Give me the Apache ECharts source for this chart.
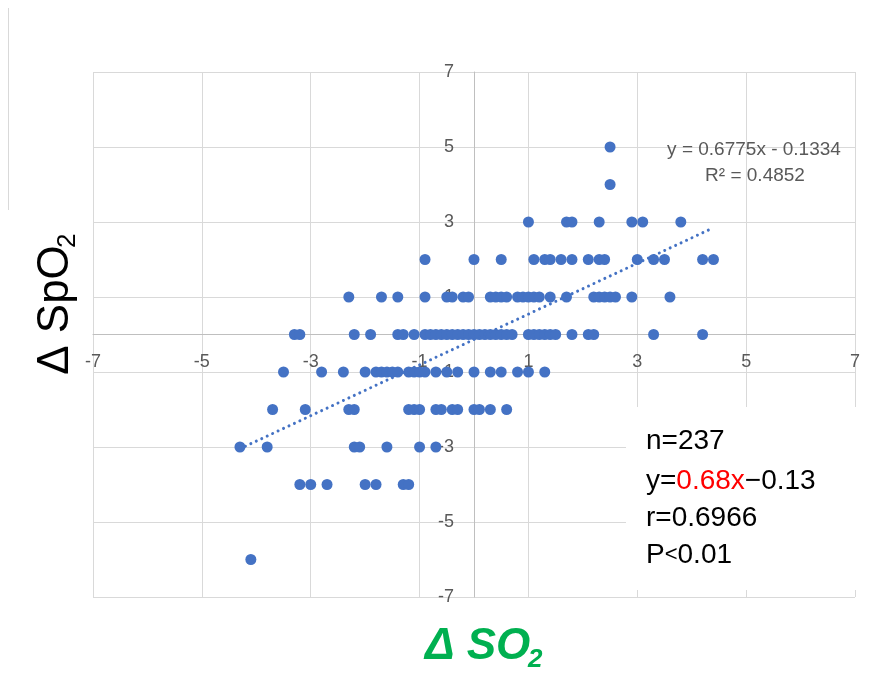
<!DOCTYPE html>
<html><head><meta charset="utf-8">
<script src="https://cdn.jsdelivr.net/npm/echarts@6/dist/echarts.min.js"></script>
<style>html,body{margin:0;padding:0;background:#fff}#c{width:879px;height:676px}</style>
</head><body><div id="c"></div>
<script>
// ---- data ----
const axisMin = -7, axisMax = 7;
const spo2Levels = [5, 4, 3, 2, 1, 0, -1, -2, -3, -4, -6];
const so2AtSpo2_5  = [2.5];
const so2AtSpo2_4  = [2.5];
const so2AtSpo2_3  = [1.0, 1.7, 1.8, 2.3, 2.9, 3.1, 3.8];
const so2AtSpo2_2  = [-0.9, 0.0, 0.5, 1.1, 1.3, 1.4, 1.6, 1.8, 2.1, 2.3, 2.4, 3.0, 3.3, 3.5, 4.2, 4.4];
const so2AtSpo2_1  = [-2.3, -1.7, -1.4, -0.9, -0.5, -0.4, -0.2, -0.1, 0.3, 0.4, 0.5, 0.6, 0.8, 0.9, 1.0, 1.1, 1.2, 1.4, 1.7, 2.2, 2.3, 2.4, 2.5, 2.6, 2.9, 3.6];
const so2AtSpo2_0  = [-3.3, -3.2, -2.2, -1.9, -1.4, -1.3, -1.1, -0.9, -0.8, -0.7, -0.6, -0.5, -0.4, -0.3, -0.2, -0.1, 0.0, 0.1, 0.2, 0.3, 0.4, 0.5, 0.6, 0.7, 1.0, 1.1, 1.2, 1.3, 1.4, 1.5, 1.8, 2.1, 2.2, 3.3, 4.2];
const so2AtSpo2_m1 = [-3.5, -2.8, -2.4, -2.0, -1.8, -1.7, -1.6, -1.5, -1.4, -1.2, -1.1, -1.0, -0.9, -0.7, -0.5, -0.3, 0.0, 0.3, 0.5, 0.8, 1.0, 1.3];
const so2AtSpo2_m2 = [-3.7, -3.1, -2.3, -2.2, -1.2, -1.1, -1.0, -0.7, -0.6, -0.4, -0.3, 0.0, 0.1, 0.3, 0.6];
const so2AtSpo2_m3 = [-4.3, -3.8, -2.2, -2.1, -1.6, -1.0, -0.7];
const so2AtSpo2_m4 = [-3.2, -3.0, -2.7, -2.0, -1.8, -1.3, -1.2];
const so2AtSpo2_m6 = [-4.1];
const trendSlope = 0.6775, trendIntercept = -0.1334;
const trendLabel = ['y = 0.6775x - 0.1334', 'R² = 0.4852'];
const statN = 'n=237';
const statEq = ['y=', '0.68x', '−0.13'];
const statR = 'r=0.6966';
const statP = ['P', '<', '0.01'];

// ---- build ----
const rows = [so2AtSpo2_5, so2AtSpo2_4, so2AtSpo2_3, so2AtSpo2_2, so2AtSpo2_1, so2AtSpo2_0,
              so2AtSpo2_m1, so2AtSpo2_m2, so2AtSpo2_m3, so2AtSpo2_m4, so2AtSpo2_m6];
const points = [];
rows.forEach((xs, i) => xs.forEach(x => points.push([x, spo2Levels[i]])));
const allX = points.map(p => p[0]);
const xLo = Math.min(...allX), xHi = Math.max(...allX);
const trend = [[xLo, trendSlope * xLo + trendIntercept], [xHi, trendSlope * xHi + trendIntercept]];

const oddLabel = v => (Math.abs(Math.round(v)) % 2 === 1 ? String(v) : '');
const FONT = 'Liberation Sans, Arial, sans-serif';
const GRID = {left: 93, right: 24, top: 72, bottom: 79};
const W = 879, H = 676;
const chart = echarts.init(document.getElementById('c'), null, {renderer: 'canvas'});
function axisCfg(margin) {
  return {
    type: 'value', min: axisMin, max: axisMax, interval: 1, offset: 0,
    axisLine: {onZero: false, lineStyle: {color: '#bfbfbf', width: 1}},
    axisTick: {show: false},
    axisLabel: {formatter: oddLabel, color: '#595959', fontSize: 18, fontFamily: FONT, margin: margin,
                showMinLabel: true, showMaxLabel: true},
    splitLine: {show: true, lineStyle: {color: ['#d9d9d9', 'rgba(0,0,0,0)'], width: 1}}
  };
}
const big = '28px ' + FONT;
chart.setOption({
  animation: false,
  backgroundColor: '#fff',
  grid: Object.assign({containLabel: false}, GRID),
  xAxis: axisCfg(19),
  yAxis: axisCfg(20),
  series: [
    {type: 'scatter', data: points, symbol: 'circle', symbolSize: 11,
     itemStyle: {color: '#4472C4', opacity: 1}, z: 3},
    {type: 'line', data: trend, showSymbol: false, silent: true, z: 4,
     lineStyle: {color: '#4472C4', width: 3, type: [0.01, 6], cap: 'round'}}
  ],
  graphic: [
    // chart-area border fragment on the left
    {type: 'line', shape: {x1: 8.5, y1: 8, x2: 8.5, y2: 210}, style: {stroke: '#d9d9d9', lineWidth: 1}, z: 1},
    {type: 'text', x: 754, y: 150, z: 10,
     style: {text: trendLabel[0], font: '19px ' + FONT, fill: '#595959', align: 'center', verticalAlign: 'middle'}},
    {type: 'text', x: 755, y: 176, z: 10,
     style: {text: trendLabel[1], font: '19px ' + FONT, fill: '#595959', align: 'center', verticalAlign: 'middle'}},
    // white box for the stats
    {type: 'rect', shape: {x: 626, y: 407, width: 253, height: 183}, style: {fill: '#fff'}, z: 20},
    {type: 'text', x: 646, y: 441, z: 21,
     style: {text: statN, font: big, fill: '#000', verticalAlign: 'middle'}},
    {type: 'text', x: 646, y: 481, z: 21,
     style: {text: '{k|' + statEq[0] + '}{r|' + statEq[1] + '}{k|' + statEq[2] + '}',
             verticalAlign: 'middle',
             rich: {k: {font: big, fill: '#000'}, r: {font: big, fill: '#ff0000'}}}},
    {type: 'text', x: 646, y: 518, z: 21,
     style: {text: statR, font: big, fill: '#000', verticalAlign: 'middle'}},
    {type: 'text', x: 646, y: 555, z: 21,
     style: {text: '{k|' + statP[0] + '}{s|' + statP[1] + '}{k|' + statP[2] + '}',
             verticalAlign: 'middle',
             rich: {k: {font: big, fill: '#000'}, s: {font: '22px ' + FONT, fill: '#000'}}}},
    // y title box
    {type: 'rect', shape: {x: 9, y: 210, width: 74, height: 200}, style: {fill: '#fff'}, z: 20},
    {type: 'group', x: 56, y: 310, rotation: Math.PI / 2, z: 21, children: [
      {type: 'text', x: 0, y: 0, z: 21,
       style: {text: 'Δ SpO', font: '44px ' + FONT, fill: '#000', align: 'center', verticalAlign: 'middle'}},
      {type: 'text', x: 62, y: 12, z: 21,
       style: {text: '2', font: '26px ' + FONT, fill: '#000', align: 'left', verticalAlign: 'middle'}}
    ]},
    // x title
    {type: 'text', x: 425, y: 647, z: 21,
     style: {text: 'Δ SO', font: 'italic bold 44px ' + FONT, fill: '#00B050', align: 'left', verticalAlign: 'middle'}},
    {type: 'text', x: 528, y: 660, z: 21,
     style: {text: '2', font: 'italic bold 26px ' + FONT, fill: '#00B050', align: 'left', verticalAlign: 'middle'}}
  ]
});
// move both axes (line + labels) onto the zero lines, located through the library's own scales
const zero = chart.convertToPixel({gridIndex: 0}, [0, 0]);
chart.setOption({
  xAxis: {offset: -((H - GRID.bottom) - zero[1])},
  yAxis: {offset: -(zero[0] - GRID.left)}
});
</script></body></html>
